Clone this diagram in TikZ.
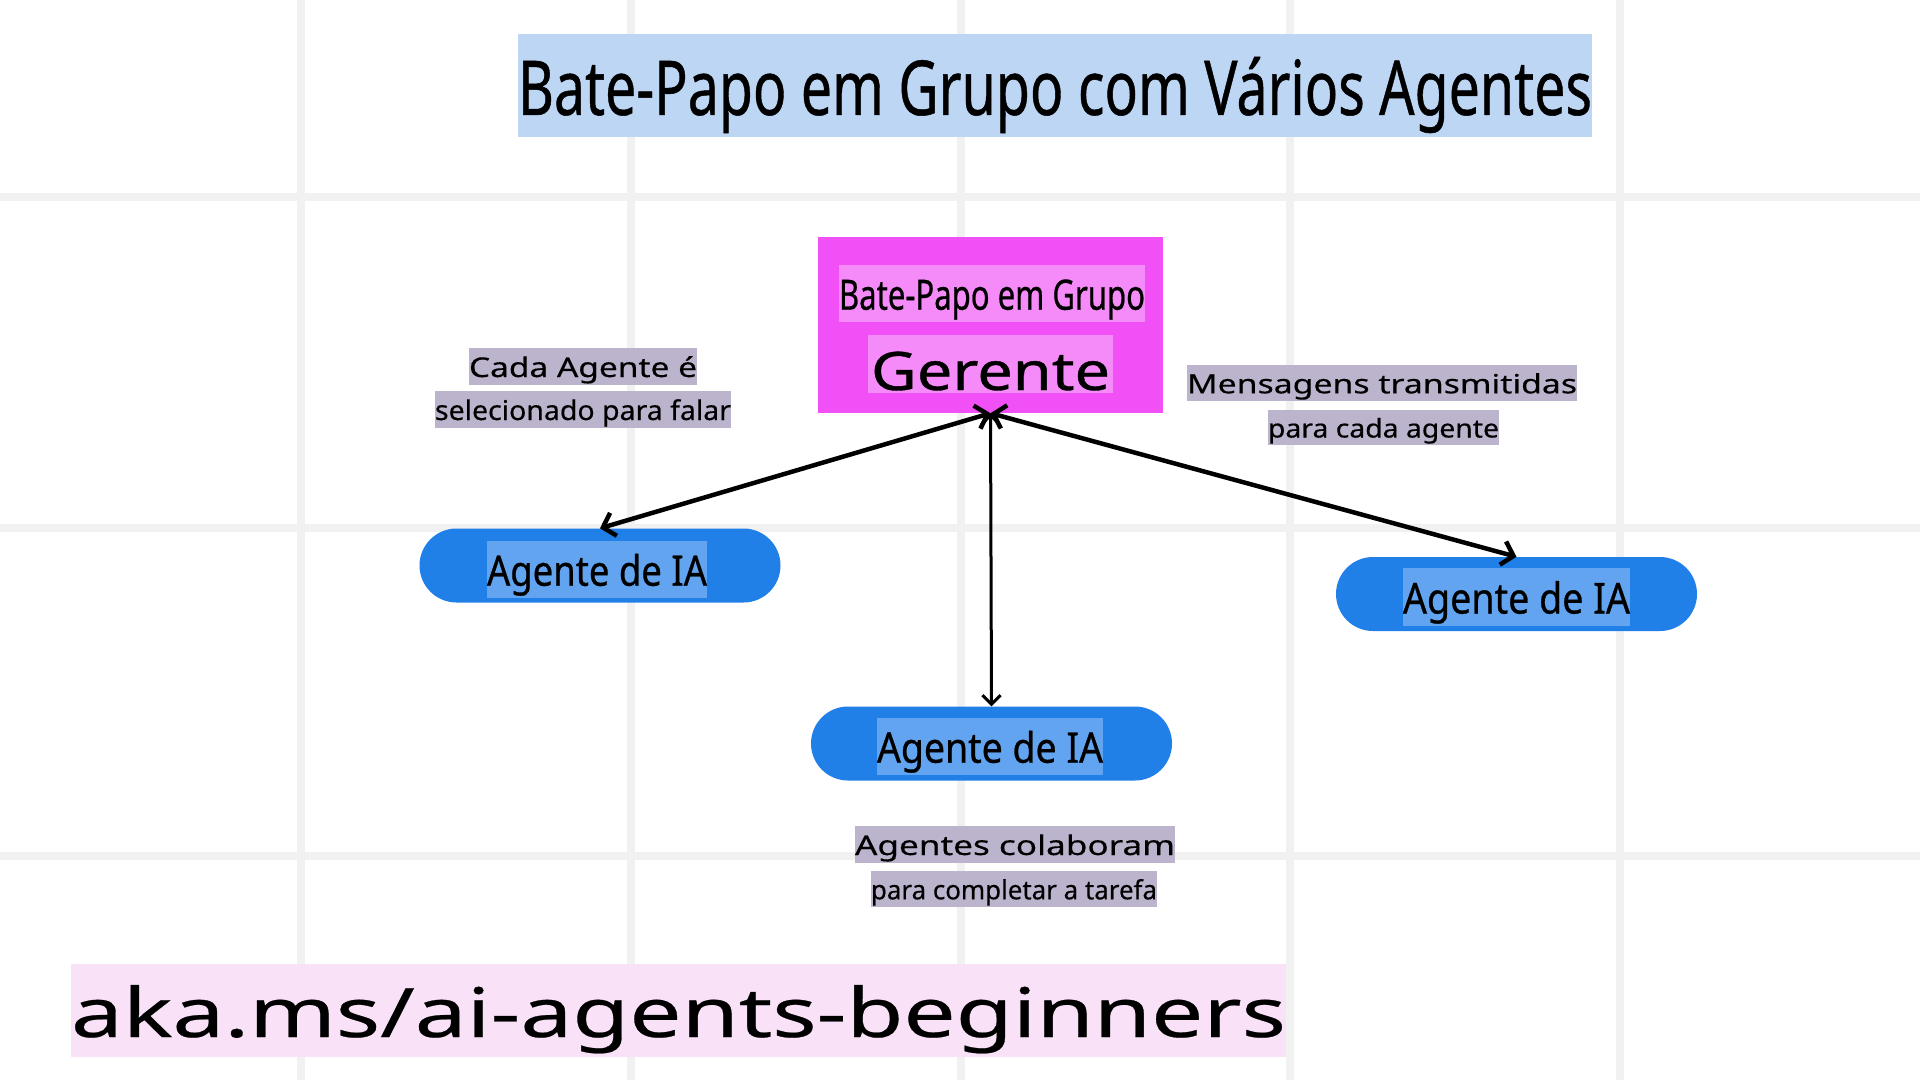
\documentclass[tikz,border=0pt]{standalone}
\usepackage{fontspec}
\setmainfont{Noto Sans}
\newfontfamily\heavy{Noto Sans}[FakeBold=0.7]
\newfontfamily\semi{Noto Sans}[FakeBold=0.35]
\usetikzlibrary{arrows.meta}
\definecolor{gridc}{HTML}{F1F1F1}
\definecolor{titlec}{HTML}{BCD6F4}
\definecolor{mgrc}{HTML}{F250F7}
\definecolor{mgrhl}{HTML}{F58BF8}
\definecolor{agc}{HTML}{217FE8}
\definecolor{aghl}{HTML}{62A4EF}
\definecolor{lblc}{HTML}{BCB4CC}
\definecolor{akac}{HTML}{F9E2F7}
\newcommand\wt[3]{\resizebox{#1}{\height}{\fontsize{#2}{#2}\selectfont #3}}
\begin{document}
\begin{tikzpicture}[x=1pt,y=-1pt,
  gridline/.style={draw=gridc,line width=8pt},
  tx/.style={inner sep=0pt,text=black},
  pill/.style={fill=agc,rounded corners=37pt,minimum width=361pt,minimum height=74pt,inner sep=0pt},
  arr/.style={draw=black,line width=4.5pt,{Straight Barb[length=11pt,width=24pt]}-{Straight Barb[length=11pt,width=24pt]}},
  arrthin/.style={draw=black,line width=3pt,{Straight Barb[length=9pt,width=18pt]}-{Straight Barb[length=9pt,width=18pt]}}]
\useasboundingbox (0,0) rectangle (1920,1080);
\fill[white] (0,0) rectangle (1920,1080);
% grid
\foreach \gx in {301,631,961,1290,1620} \draw[gridline] (\gx,0) -- (\gx,1080);
\foreach \gy in {197,528,856} \draw[gridline] (0,\gy) -- (1920,\gy);
% title
\node[tx,fill=titlec,text height=80.9pt,text depth=22.1pt] (title) at (1055,85.5)
  {\wt{1074pt}{75.6}{\heavy Bate-Papo em Grupo com Vários Agentes}};
% manager
\node[fill=mgrc,minimum width=345pt,minimum height=176pt,inner sep=0pt] (mgr) at (990.5,325) {};
\node[tx,fill=mgrhl,text height=44.7pt,text depth=12.3pt] (mgrt) at (992,293.5)
  {\wt{306pt}{41.8}{\heavy Bate-Papo em Grupo}};
\node[tx,fill=mgrhl,text height=55pt,text depth=3pt,inner xsep=3pt] (mgrg) at (990.5,364)
  {\wt{239pt}{53}{\heavy Gerente}};
% agents
\node[pill] (a1) at (600,565.5) {};
\node[pill] (a2) at (1516.5,594) {};
\node[pill] (a3) at (991.5,743.5) {};
\node[tx,fill=aghl,text height=44.7pt,text depth=12.3pt] (a1t) at (597,569.5) {\wt{220pt}{42}{\heavy Agente de IA}};
\node[tx,fill=aghl,text height=45.5pt,text depth=12.5pt] (a2t) at (1516.5,597) {\wt{227pt}{42.6}{\heavy Agente de IA}};
\node[tx,fill=aghl,text height=44.7pt,text depth=12.3pt] (a3t) at (990,746.5) {\wt{226pt}{42}{\heavy Agente de IA}};
% connectors
\draw[arr] (mgr.south) -- (a1.north);
\draw[arr] (mgr.south) -- (a2.north);
\draw[arrthin] (mgr.south) -- (a3.north);
% labels
\node[tx,fill=lblc,text height=29pt,text depth=8pt] (l1) at (583,366.5) {\wt{228pt}{27.2}{\semi Cada Agente é}};
\node[tx,fill=lblc,text height=29pt,text depth=8pt] (l2) at (583,409.5) {\wt{296pt}{27.2}{\semi selecionado para falar}};
\node[tx,fill=lblc,text height=28.3pt,text depth=7.7pt] (l3) at (1382,383) {\wt{390pt}{26.4}{\semi Mensagens transmitidas}};
\node[tx,fill=lblc,text height=27.5pt,text depth=7.5pt] (l4) at (1383.5,427.5) {\wt{231pt}{25.7}{\semi para cada agente}};
\node[tx,fill=lblc,text height=29pt,text depth=8pt] (l5) at (1015,844.5) {\wt{320pt}{27.2}{\semi Agentes colaboram}};
\node[tx,fill=lblc,text height=28.3pt,text depth=7.7pt] (l6) at (1014,889) {\wt{286pt}{26.4}{\semi para completar a tarefa}};
% footer
\node[tx,fill=akac,text height=73pt,text depth=20pt] (aka) at (678.5,1010.5) {\wt{1215pt}{68.3}{\semi aka.ms/ai-agents-beginners}};
\end{tikzpicture}
\end{document}
